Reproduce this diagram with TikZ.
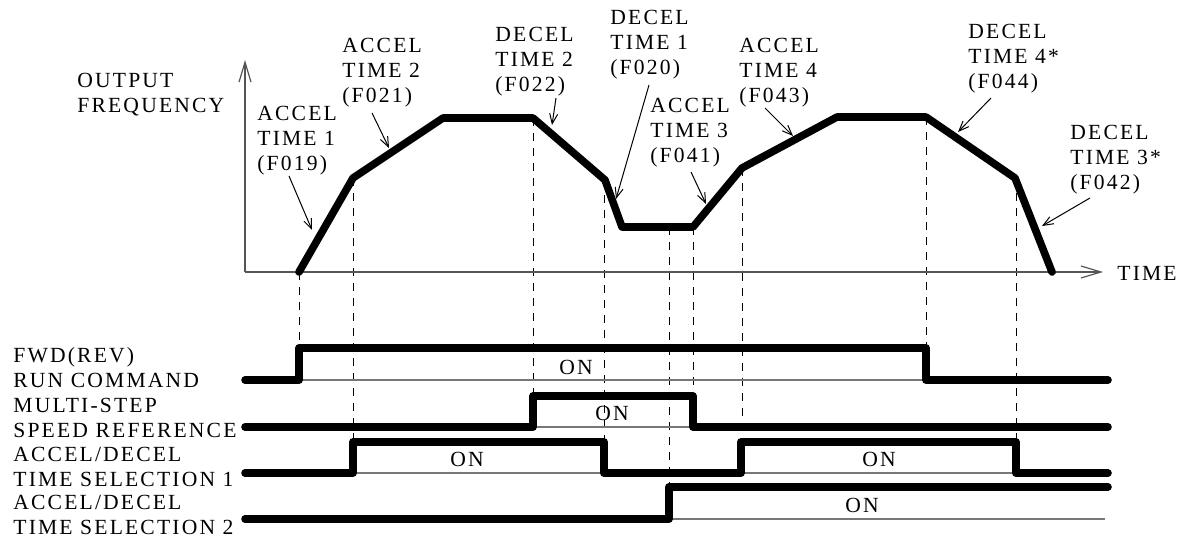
\documentclass[tikz,border=0pt]{standalone}
\usepackage{fontspec}
\setmainfont{Liberation Serif}[LetterSpace=10]
\usetikzlibrary{arrows.meta, calc}
\definecolor{invBlack}{HTML}{000000}
\definecolor{invGray}{HTML}{777777}
\definecolor{invDarkGray}{HTML}{555555}

\begin{document}
\begin{tikzpicture}[
    x=0.5pt, y=-0.5pt,
    every node/.style={font=\fontsize{10.8pt}{12.4pt}\selectfont, inner sep=0pt, text=invBlack},
    axisline/.style={line width=0.6pt, draw=invDarkGray},
    baseline/.style={line width=0.6pt, draw=invGray},
    guideline/.style={line width=0.5pt, draw=invBlack, dash pattern=on 4pt off 3.5pt},
    heavyline/.style={line width=3.8pt, draw=invBlack, line cap=round, line join=round},
    callout/.style={line width=0.5pt, draw=invBlack, -{Straight Barb[length=5pt, width=4pt]}},
    sigtext/.style={anchor=north west, align=left},
    ontext/.style={anchor=center}
]
\useasboundingbox (0,0) rectangle (1187,540);

% ============================
% Top: output frequency profile
% ============================
% Curve corner points
\foreach \n/\x/\y in {0/299/272, 1/353/178, 2/443/118, 3/533/118, 4/605/180, 5/622/227,
                      6/693/227, 7/742/168, 8/837/117, 9/926/117, 10/1015/178, 11/1052/272} {
    \coordinate (f\n) at (\x,\y);
}

% Guide lines down to the signal edges
\foreach \x/\ya/\yb in {299/272/348, 353/178/442, 533/118/396, 604/180/442, 669/227/487,
                        693/227/396, 742/168/442, 926/117/348, 1016/178/442} {
    \draw[guideline] (\x,\ya) -- (\x,\yb);
}

% Axes
\coordinate (origin) at (245,272);
\draw[axisline, -{Straight Barb[length=10pt, width=6pt]}] (origin) -- (245,60);
\draw[axisline, -{Straight Barb[length=10pt, width=6pt]}] (origin) -- (1103,272);
\node[anchor=base west] (timelbl) at (1117,280) {TIME};
\node[sigtext] (freqlbl) at (77,73) {OUTPUT\\FREQUENCY};

% Frequency curve
\draw[heavyline] (f0) -- (f1) -- (f2) -- (f3) -- (f4) -- (f5) -- (f6) -- (f7) -- (f8) -- (f9) -- (f10) -- (f11);

% Ramp labels
\node[sigtext] (acc1) at (257,106) {ACCEL\\TIME 1\\(F019)};
\node[sigtext] (acc2) at (342,38)  {ACCEL\\TIME 2\\(F021)};
\node[sigtext] (dec2) at (495,27)  {DECEL\\TIME 2\\(F022)};
\node[sigtext] (dec1) at (610,10)  {DECEL\\TIME 1\\(F020)};
\node[sigtext] (acc3) at (650,98)  {ACCEL\\TIME 3\\(F041)};
\node[sigtext] (acc4) at (739,38)  {ACCEL\\TIME 4\\(F043)};
\node[sigtext] (dec4) at (968,24)  {DECEL\\TIME 4*\\(F044)};
\node[sigtext] (dec3) at (1070,125) {DECEL\\TIME 3*\\(F042)};

% Callout arrows (tail under label, head on the ramp)
\foreach \lbl/\xa/\ya/\xb/\yb in {acc1/289/176/312/230, acc2/372/113/389/148, dec2/556/98/552/125,
                                  dec1/649/85/616/199, acc3/691/172/706/204, acc4/765/108/793/136,
                                  dec4/991/98/958/132, dec3/1090/198/1042/226} {
    \coordinate (\lbl tail) at (\xa,\ya);
    \coordinate (\lbl head) at (\xb,\yb);
    \draw[callout] (\lbl tail) -- (\lbl head);
}

% ============================
% Bottom: input signals
% ============================
\node[sigtext] (runlbl)   at (13,347) {FWD(REV)\\RUN COMMAND};
\node[sigtext] (speedlbl) at (13,398) {MULTI-STEP\\SPEED REFERENCE};
\node[sigtext] (sel1lbl)  at (13,447) {ACCEL/DECEL\\TIME SELECTION 1};
\node[sigtext] (sel2lbl)  at (13,495) {ACCEL/DECEL\\TIME SELECTION 2};

% Thin baselines under the ON states
\draw[baseline] (299,380) -- (926,380);
\draw[baseline] (533,427) -- (693,427);
\draw[baseline] (353,473) -- (604,473);
\draw[baseline] (741,473) -- (1016,473);
\draw[baseline] (669,519) -- (1105,519);

% Signal levels
\draw[heavyline] (245,380) -| (299,348) -| (926,380) -- (1108,380);
\draw[heavyline] (245,427) -| (533,396) -| (693,427) -- (1108,427);
\draw[heavyline] (245,473) -| (353,442) -| (604,473) -| (741,442) -| (1016,473) -- (1108,473);
\draw[heavyline] (245,519) -| (669,487) -- (1108,487);

% ON states
\node[ontext] (onrun)   at (576,367) {ON};
\node[ontext] (onspeed) at (612,413) {ON};
\node[ontext] (onsel1a) at (467,459) {ON};
\node[ontext] (onsel1b) at (879,459) {ON};
\node[ontext] (onsel2)  at (862,505) {ON};

\end{tikzpicture}
\end{document}
